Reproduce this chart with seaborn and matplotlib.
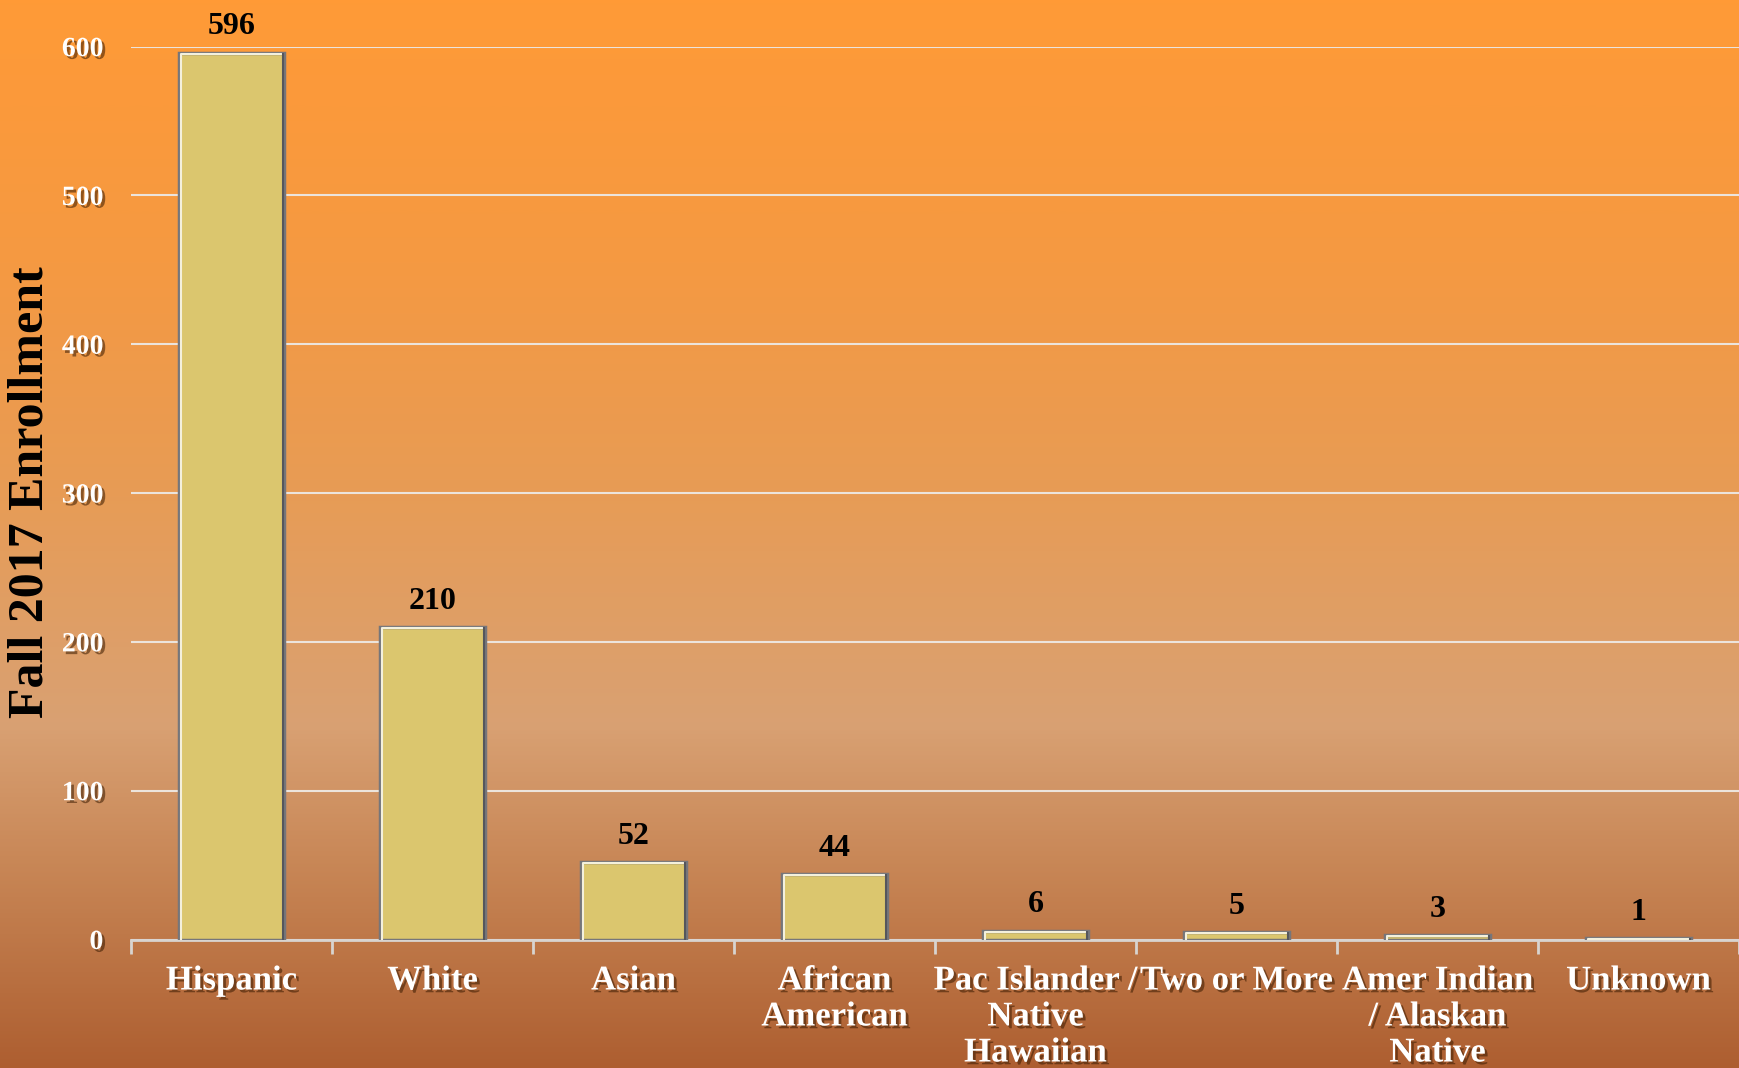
import numpy as np
import pandas as pd
import matplotlib
matplotlib.use("Agg")
import matplotlib.pyplot as plt
import matplotlib.patheffects as pe
from matplotlib.colors import LinearSegmentedColormap
import seaborn as sns

categories = ["Hispanic", "White", "Asian", "African\nAmerican",
              "Pac Islander /\nNative\nHawaiian", "Two or More",
              "Amer Indian\n/ Alaskan\nNative", "Unknown"]
values = [596, 210, 52, 44, 6, 5, 3, 1]
y_ticks = [0, 100, 200, 300, 400, 500, 600]
y_label = "Fall 2017 Enrollment"

df = pd.DataFrame({"cat": categories, "val": values})

sns.set_theme(style="white")
plt.rcParams["font.family"] = ["Liberation Serif", "DejaVu Serif"]

W, H = 1739, 1068
fig = plt.figure(figsize=(W / 100, H / 100), dpi=100)

# background gradient
bg = fig.add_axes([0, 0, 1, 1], zorder=-10)
cmap = LinearSegmentedColormap.from_list("bg", [
    (0.0, (1.00, 0.605, 0.215)),
    (0.25, (0.96, 0.60, 0.26)),
    (0.45, (0.91, 0.61, 0.33)),
    (0.68, (0.85, 0.63, 0.45)),
    (0.82, (0.78, 0.52, 0.33)),
    (1.0, (0.68, 0.37, 0.19)),
])
grad = np.linspace(0, 1, 512).reshape(-1, 1)
bg.imshow(grad, aspect="auto", cmap=cmap, extent=[0, 1, 0, 1], origin="upper")
bg.axis("off")

ax = fig.add_axes([131 / W, 1 - 939.5 / H, 1 - 131 / W, (939.5 - 46.6) / H])
ax.patch.set_alpha(0)

sns.barplot(data=df, x="cat", y="val", color="#DBC66E", width=0.52,
            edgecolor="#76767a", linewidth=2.5, saturation=1, ax=ax, zorder=3)

# bevel highlight / shade on bars
for bar in ax.patches:
    x0, y0 = bar.get_x(), bar.get_y()
    w, h = bar.get_width(), bar.get_height()
    ax.plot([x0 + 0.01, x0 + 0.01, x0 + w - 0.01], [y0, y0 + h - 0.8, y0 + h - 0.8],
            color="#f4f0dc", lw=1.5, zorder=4, solid_capstyle="butt")
    ax.plot([x0 + w - 0.004, x0 + w - 0.004], [y0, y0 + h],
            color="#55565c", lw=1.5, zorder=4, solid_capstyle="butt")

ax.set_xlim(-0.5, len(categories) - 0.5)
ax.set_ylim(0, 600)
ax.set_yticks(y_ticks)
ax.yaxis.grid(True, color="#ece4dc", linewidth=1.5, zorder=0)
ax.set_axisbelow(True)

for s in ["top", "right", "left"]:
    ax.spines[s].set_visible(False)
ax.spines["bottom"].set_color("#d8d4d0")
ax.spines["bottom"].set_linewidth(2)
ax.spines["bottom"].set_zorder(2)

shadow = [pe.SimplePatchShadow(offset=(2, -2), shadow_rgbFace="#3a1a00", alpha=0.55), pe.Normal()]

ax.set_xticks(range(len(categories)))
ax.set_xticklabels(categories, fontsize=25, fontweight="bold", color="white",
                   linespacing=1.12, va="top")
ax.set_xticks(np.arange(-0.5, len(categories) - 0.4, 1), minor=True)
ax.tick_params(axis="x", which="major", length=0, pad=18)
ax.tick_params(axis="x", which="minor", bottom=True, length=10, width=2,
               color="#d8d4d0", direction="out")
ax.tick_params(axis="y", length=0, pad=20)
for lab in ax.get_yticklabels():
    lab.set_fontsize(20)
    lab.set_fontweight("bold")
    lab.set_color("white")
    lab.set_path_effects(shadow)
for lab in ax.get_xticklabels():
    lab.set_path_effects(shadow)

ax.set_xlabel("")
ax.set_ylabel("")
fig.text(31 / W, 1 - 492 / H, y_label, rotation=90, ha="center", va="center",
         fontsize=36, fontweight="bold", color="black")

for i, v in enumerate(values):
    ax.annotate(str(v), (i, v), xytext=(0, 8), textcoords="offset points",
                ha="center", va="bottom", fontsize=23, fontweight="bold",
                color="black", annotation_clip=False)

fig.savefig("out.png", dpi=100)
